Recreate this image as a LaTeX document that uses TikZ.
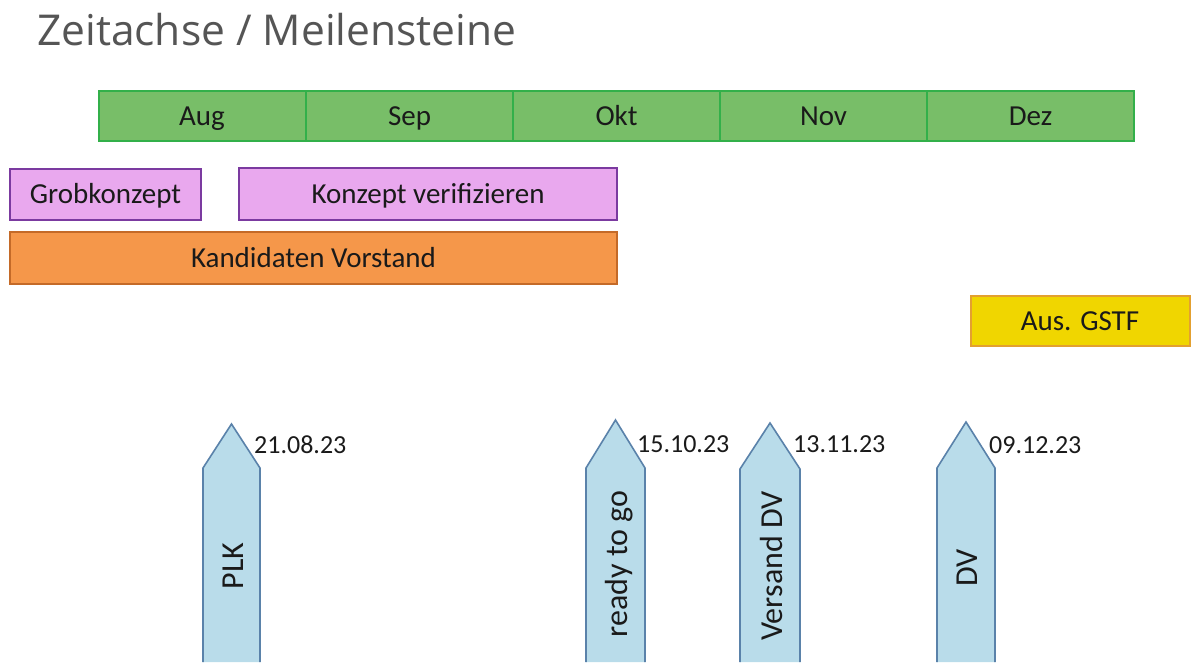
\documentclass[tikz,border=0pt]{standalone}
\usepackage{fontspec}
\setmainfont{Carlito}
\newfontfamily\titlefont{Open Sans}
\definecolor{titlegray}{HTML}{555555}
\definecolor{monthfill}{HTML}{78BE68}
\definecolor{monthborder}{HTML}{33B04A}
\definecolor{violetfill}{HTML}{E9A8EE}
\definecolor{violetborder}{HTML}{7B3AA0}
\definecolor{orangefill}{HTML}{F5974A}
\definecolor{orangeborder}{HTML}{C46A28}
\definecolor{yellowfill}{HTML}{F0D600}
\definecolor{yellowborder}{HTML}{E3A030}
\definecolor{arrowfill}{HTML}{B9DCEA}
\definecolor{arrowborder}{HTML}{5A82AA}
\definecolor{darktext}{HTML}{1A1A1A}
\tikzset{
  bar/.style={line width=2pt, inner sep=0pt, text=darktext,
    font=\fontsize{29}{29}\selectfont, text height=18.5pt, text depth=0pt},
  month/.style={bar, draw=monthborder, fill=monthfill,
    minimum width=207pt, minimum height=50pt},
  violetbox/.style={bar, draw=violetborder, fill=violetfill},
  orangebox/.style={bar, draw=orangeborder, fill=orangefill},
  yellowbox/.style={bar, draw=yellowborder, fill=yellowfill},
  msfill/.style={fill=arrowfill},
  msline/.style={draw=arrowborder, line width=1.6pt, line join=miter},
  mstext/.style={rotate=90, anchor=base, inner sep=0pt, text=darktext,
    font=\fontsize{32}{32}\selectfont},
  datetext/.style={anchor=base west, inner sep=0pt, text=darktext,
    font=\fontsize{26}{26}\selectfont}
}
\begin{document}
\begin{tikzpicture}[x=1pt,y=-1pt]
\useasboundingbox[fill=white] (0,0) rectangle (1191,662);
% title
\node[anchor=base west, inner sep=0pt, text=titlegray,
  font=\titlefont\fontsize{42.5}{42.5}\selectfont] (title) at (37,45) {Zeitachse / Meilensteine};
% months
\node[month] (aug) at (202,116) {Aug};
\node[month] (sep) at (409.5,116) {Sep};
\node[month] (okt) at (616.5,116) {Okt};
\node[month] (nov) at (823.5,116) {Nov};
\node[month] (dez) at (1030.5,116) {Dez};
% phases
\node[violetbox, minimum width=191pt, minimum height=51pt] (grob) at (105.5,194.5) {Grobkonzept};
\node[violetbox, minimum width=378pt, minimum height=52pt] (verif) at (428,194) {Konzept verifizieren};
\node[orangebox, minimum width=607pt, minimum height=52pt] (kand) at (313.5,258) {Kandidaten Vorstand};
\node[yellowbox, minimum width=219pt, minimum height=50pt] (gstf) at (1080,321) {Aus. GSTF};
% milestone arrows
\fill[msfill] (203,662) -- (203,468) -- (231.5,424) -- (260,468) -- (260,662) -- cycle;
\draw[msline] (203,662) -- (203,468) -- (231.5,424) -- (260,468) -- (260,662);
\fill[msfill] (586,662) -- (586,468) -- (615.5,420) -- (645,468) -- (645,662) -- cycle;
\draw[msline] (586,662) -- (586,468) -- (615.5,420) -- (645,468) -- (645,662);
\fill[msfill] (740,662) -- (740,469) -- (770,423) -- (800,469) -- (800,662) -- cycle;
\draw[msline] (740,662) -- (740,469) -- (770,423) -- (800,469) -- (800,662);
\fill[msfill] (937,662) -- (937,468) -- (966,422) -- (995,468) -- (995,662) -- cycle;
\draw[msline] (937,662) -- (937,468) -- (966,422) -- (995,468) -- (995,662);
% milestone labels
\node[mstext] (plk) at (243,566) {PLK};
\node[mstext] (ready) at (627,564) {ready to go};
\node[mstext] (versand) at (782,566) {Versand DV};
\node[mstext] (dv) at (977,568) {DV};
% dates
\node[datetext] (d1) at (254,453) {21.08.23};
\node[datetext] (d2) at (637,452) {15.10.23};
\node[datetext] (d3) at (793,452) {13.11.23};
\node[datetext] (d4) at (989,453) {09.12.23};
\end{tikzpicture}
\end{document}
